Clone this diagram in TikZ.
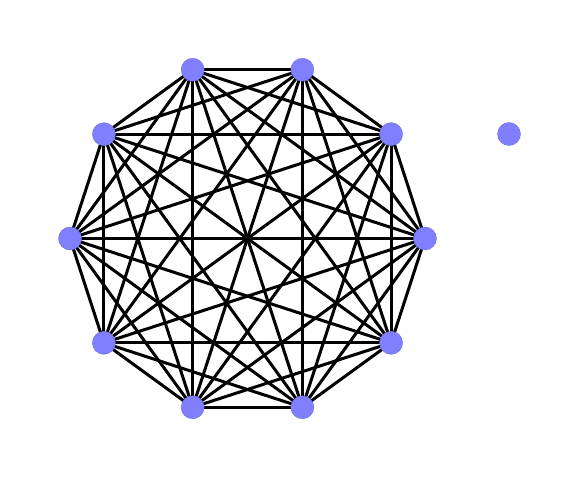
\documentclass[tikz,border=0pt]{standalone}
\begin{document}
\begin{tikzpicture}[x=1pt,y=-1pt,
  vert/.style={circle,fill={rgb,255:red,128;green,128;blue,255},draw={rgb,255:red,110;green,110;blue,230},line width=0.4pt,minimum size=23pt,inner sep=0pt},
  edge/.style={line width=3pt,black}]
\useasboundingbox (0,0) rectangle (580,479);
\foreach \i in {0,...,9}{
  \coordinate (p\i) at ({247.5+177.5*cos(36*\i)},{238.5-177.5*sin(36*\i)});
}
\foreach \i in {0,...,9}{
  \foreach \j in {0,...,9}{
    \ifnum\i<\j \draw[edge] (p\i) -- (p\j); \fi
  }
}
\foreach \i in {0,...,9}{
  \node[vert] (v\i) at (p\i) {};
}
\node[vert] (v10) at (509,134) {};
\end{tikzpicture}
\end{document}
